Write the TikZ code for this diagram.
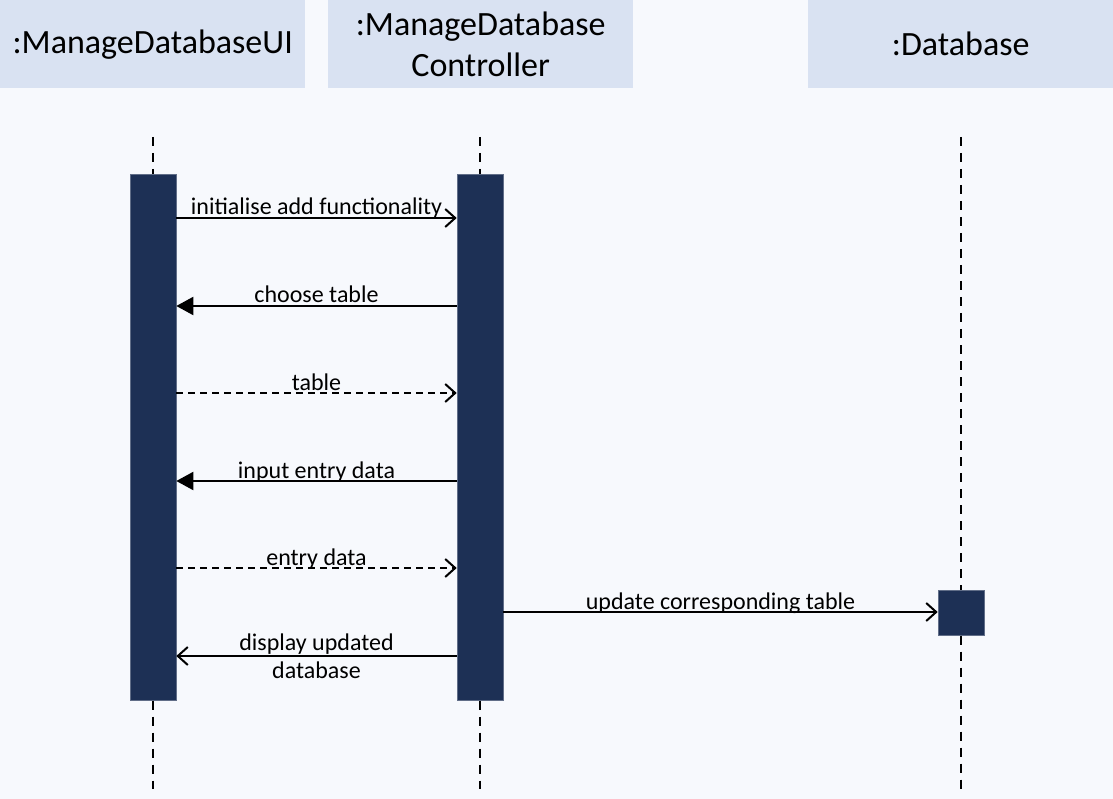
\documentclass[tikz,border=0pt]{standalone}
\usepackage{fontspec}
\setmainfont{Carlito}
\usetikzlibrary{arrows.meta,calc}
\definecolor{pagebg}{HTML}{F7F9FD}
\definecolor{headfill}{HTML}{D9E2F2}
\definecolor{barfill}{HTML}{1D3055}
\tikzset{
  head/.style={fill=headfill, draw=none, minimum width=305pt, minimum height=88pt,
    inner sep=0pt, align=center, font=\fontsize{34}{41}\selectfont},
  actbar/.style={fill=barfill, draw=barfill!70!white, line width=0.6pt,
    minimum width=46pt, inner sep=0pt},
  life/.style={line width=2.6pt, dash pattern=on 9pt off 7pt},
  msg/.style={line width=2pt},
  reply/.style={msg, dash pattern=on 7pt off 5pt},
  openhead/.style={-{Straight Barb[length=10pt,width=18pt,line width=2pt]}},
  fillhead/.style={-{Triangle[length=17pt,width=18pt]}},
  lbl/.style={font=\fontsize{24}{28}\selectfont, inner sep=0pt, midway, anchor=base, yshift=3pt}
}
\begin{document}
\begin{tikzpicture}[x=1pt,y=-1pt]
  \fill[pagebg] (0,0) rectangle (1113,799);
  \useasboundingbox (0,0) rectangle (1113,799);

  % object heads
  \node[head, anchor=north west] (uiHead) at (0,0) {:ManageDatabaseUI};
  \node[head, anchor=north west] (ctlHead) at (328,0) {:ManageDatabase\\Controller};
  \node[head, anchor=north west] (dbHead) at (808,0) {:Database};

  % activation bars
  \node[actbar, anchor=north, minimum height=526pt] (uiBar) at (153,174) {};
  \node[actbar, anchor=north, minimum height=526pt] (ctlBar) at (480,174) {};
  \node[actbar, anchor=north, minimum height=45pt] (dbBar) at (961,590) {};

  % lifeline end points
  \coordinate (uiTop) at (153,137);
  \coordinate (uiEnd) at (153,789);
  \coordinate (ctlTop) at (480,137);
  \coordinate (ctlEnd) at (480,789);
  \coordinate (dbTop) at (961,137);
  \coordinate (dbEnd) at (961,789);

  % lifelines
  \draw[life] (uiTop) -- (uiBar.north);
  \draw[life] (uiBar.south) -- (uiEnd);
  \draw[life] (ctlTop) -- (ctlBar.north);
  \draw[life] (ctlBar.south) -- (ctlEnd);
  \draw[life] (dbTop) -- (dbBar.north);
  \draw[life] (dbBar.south) -- (dbEnd);

  % messages
  \draw[msg, openhead] (uiBar.east |- 0,218) -- (ctlBar.west |- 0,218)
    node[lbl] {initialise add functionality};
  \draw[msg, fillhead] (ctlBar.west |- 0,306) -- (uiBar.east |- 0,306)
    node[lbl] {choose table};
  \draw[reply, openhead] (uiBar.east |- 0,393) -- (ctlBar.west |- 0,393)
    node[lbl] {table};
  \draw[msg, fillhead] (ctlBar.west |- 0,481) -- (uiBar.east |- 0,481)
    node[lbl] {input entry data};
  \draw[reply, openhead] (uiBar.east |- 0,568) -- (ctlBar.west |- 0,568)
    node[lbl] {entry data};
  \draw[msg, openhead] (ctlBar.east |- 0,612) -- (dbBar.west |- 0,612)
    node[lbl] {update corresponding table};
  \draw[msg, openhead] (ctlBar.west |- 0,656) -- (uiBar.east |- 0,656)
    node[midway, inner sep=0pt, align=center, font=\fontsize{24}{28}\selectfont]
    {display updated\\database};
\end{tikzpicture}
\end{document}
